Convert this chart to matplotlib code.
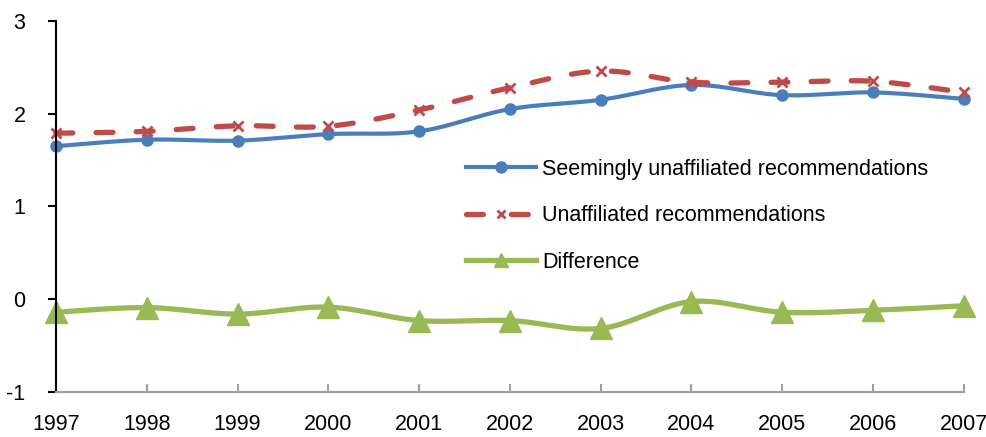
import numpy as np
import matplotlib
matplotlib.use("Agg")
import matplotlib.pyplot as plt
from matplotlib.lines import Line2D

plt.rcParams["font.family"] = ["Liberation Sans", "DejaVu Sans"]
plt.rcParams["axes.unicode_minus"] = False

years = [1997, 1998, 1999, 2000, 2001, 2002, 2003, 2004, 2005, 2006, 2007]
seemingly = [1.65, 1.72, 1.71, 1.78, 1.81, 2.05, 2.15, 2.31, 2.20, 2.23, 2.16]
unaffiliated = [1.79, 1.81, 1.87, 1.865, 2.04, 2.28, 2.46, 2.34, 2.34, 2.35, 2.23]
difference = [-0.14, -0.09, -0.16, -0.085, -0.23, -0.23, -0.315, -0.025, -0.14, -0.12, -0.07]

labels = ["Seemingly unaffiliated recommendations",
          "Unaffiliated recommendations",
          "Difference"]

blue = "#4a7ebb"
red = "#be4b48"
green = "#98b954"


def smooth(x, y, n=30):
    # Catmull-Rom style bezier through the points, like spreadsheet "smoothed line"
    x = np.asarray(x, float)
    y = np.asarray(y, float)
    pts = np.column_stack([x, y])
    p = np.vstack([pts[0], pts, pts[-1]])
    out = []
    t = np.linspace(0, 1, n)[:, None]
    for i in range(1, len(p) - 2):
        p0, p1, p2, p3 = p[i - 1], p[i], p[i + 1], p[i + 2]
        c1 = p1 + (p2 - p0) / 6
        c2 = p2 - (p3 - p1) / 6
        seg = ((1 - t) ** 3) * p1 + 3 * ((1 - t) ** 2) * t * c1 + 3 * (1 - t) * t ** 2 * c2 + t ** 3 * p2
        out.append(seg if i == 1 else seg[1:])
    seg = np.vstack(out)
    return seg[:, 0], seg[:, 1]


fig = plt.figure(figsize=(9.87, 4.37), dpi=100)
ax = fig.add_axes([0.0567, 0.103, 0.9197, 0.849])

sx, sy = smooth(years, seemingly)
ax.plot(sx, sy, color=blue, lw=3, clip_on=False, solid_capstyle="round")
ax.plot(years, seemingly, "o", color=blue, ms=8, clip_on=False)

ux, uy = smooth(years, unaffiliated)
ax.plot(ux, uy, color=red, lw=3.8, dashes=(3.2, 4.4), dash_capstyle="round", clip_on=False)
ax.plot(years, unaffiliated, "x", color=red, ms=7, mew=2, clip_on=False)

dx, dy = smooth(years, difference)
ax.plot(dx, dy, color=green, lw=3.8, clip_on=False, solid_capstyle="round")
ax.plot(years, difference, "^", color=green, ms=16, clip_on=False)

ax.set_xlim(1997, 2007)
ax.set_ylim(-1, 3)
ax.set_xticks(years)
ax.set_yticks([-1, 0, 1, 2, 3])
ax.tick_params(axis="x", direction="in", length=6, width=1.5, color="#a0a0a0",
               labelsize=15.5, pad=16)
ax.tick_params(axis="y", direction="out", length=6, width=1.5, color="black",
               labelsize=15.5, pad=16)

for side in ["top", "right"]:
    ax.spines[side].set_visible(False)
ax.spines["left"].set_linewidth(1.5)
ax.spines["bottom"].set_color("#a0a0a0")
ax.spines["bottom"].set_linewidth(1.5)

handles = [
    Line2D([], [], color=blue, lw=3, marker="o", ms=8),
    Line2D([], [], color=red, lw=3.8, dashes=(3.2, 5.3), dash_capstyle="round",
           marker="x", ms=6, mew=2),
    Line2D([], [], color=green, lw=3.8, marker="^", ms=10),
]
ax.legend(handles, labels, loc="upper left", bbox_to_anchor=(0.4396, 0.658),
          frameon=False, fontsize=15.5, handlelength=3.26, handletextpad=0.28,
          labelspacing=1.19, borderpad=0, markerscale=1)

fig.savefig("out.png", dpi=100)
